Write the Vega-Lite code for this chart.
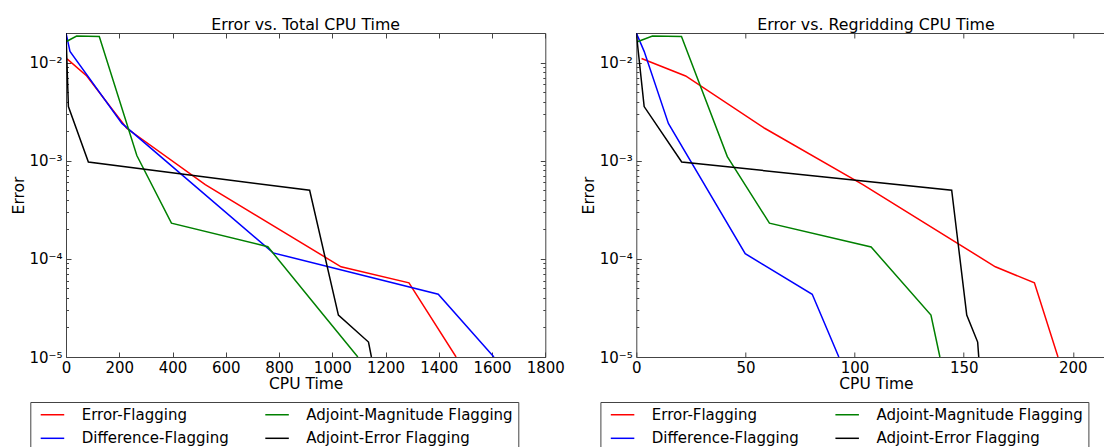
{
  "$schema": "https://vega.github.io/schema/vega-lite/v6.json",
  "background": "white",
  "padding": {"left": 10, "top": 16, "right": 0, "bottom": 0},
  "config": {
    "font": "DejaVu Sans",
    "view": {"stroke": "#444", "strokeWidth": 1},
    "axis": {"grid": false, "domain": false, "tickColor": "#444", "tickWidth": 1, "labelFontSize": 15, "labelColor": "#000", "labelFont": "DejaVu Sans", "titleFont": "DejaVu Sans", "titleFontSize": 15.5, "titleFontWeight": "normal", "titleColor": "#000"},
    "title": {"font": "DejaVu Sans", "fontSize": 15.8, "fontWeight": "normal", "color": "#000"}
  },
  "datasets": {
    "total": [
      {"series": "Error-Flagging", "t": 4, "err": 0.0109},
      {"series": "Error-Flagging", "t": 78, "err": 0.0073},
      {"series": "Error-Flagging", "t": 228, "err": 0.00214},
      {"series": "Error-Flagging", "t": 523, "err": 0.00057},
      {"series": "Error-Flagging", "t": 1033, "err": 0.000083},
      {"series": "Error-Flagging", "t": 1288, "err": 0.000057},
      {"series": "Error-Flagging", "t": 1465, "err": 0.00001},
      {"series": "Difference-Flagging", "t": 0, "err": 0.02},
      {"series": "Difference-Flagging", "t": 15, "err": 0.013},
      {"series": "Difference-Flagging", "t": 210, "err": 0.0024},
      {"series": "Difference-Flagging", "t": 778, "err": 0.000115},
      {"series": "Difference-Flagging", "t": 1398, "err": 0.0000436},
      {"series": "Difference-Flagging", "t": 1607, "err": 0.00001},
      {"series": "Adjoint-Magnitude Flagging", "t": 0, "err": 0.0163},
      {"series": "Adjoint-Magnitude Flagging", "t": 40, "err": 0.0186},
      {"series": "Adjoint-Magnitude Flagging", "t": 125, "err": 0.0184},
      {"series": "Adjoint-Magnitude Flagging", "t": 266, "err": 0.00113},
      {"series": "Adjoint-Magnitude Flagging", "t": 396, "err": 0.000231},
      {"series": "Adjoint-Magnitude Flagging", "t": 758, "err": 0.000133},
      {"series": "Adjoint-Magnitude Flagging", "t": 967, "err": 0.0000268},
      {"series": "Adjoint-Magnitude Flagging", "t": 1096, "err": 0.00001},
      {"series": "Adjoint-Error Flagging", "t": 0, "err": 0.02},
      {"series": "Adjoint-Error Flagging", "t": 9, "err": 0.00356},
      {"series": "Adjoint-Error Flagging", "t": 84, "err": 0.00097},
      {"series": "Adjoint-Error Flagging", "t": 915, "err": 0.0005},
      {"series": "Adjoint-Error Flagging", "t": 1023, "err": 0.0000267},
      {"series": "Adjoint-Error Flagging", "t": 1136, "err": 0.0000142},
      {"series": "Adjoint-Error Flagging", "t": 1147, "err": 0.00001}
    ],
    "regrid": [
      {"series": "Error-Flagging", "t": 2.4, "err": 0.011},
      {"series": "Error-Flagging", "t": 22.6, "err": 0.0073},
      {"series": "Error-Flagging", "t": 58.8, "err": 0.00214},
      {"series": "Error-Flagging", "t": 103.8, "err": 0.00057},
      {"series": "Error-Flagging", "t": 164.5, "err": 0.000083},
      {"series": "Error-Flagging", "t": 182.4, "err": 0.000057},
      {"series": "Error-Flagging", "t": 193.2, "err": 0.00001},
      {"series": "Difference-Flagging", "t": 0, "err": 0.02},
      {"series": "Difference-Flagging", "t": 3.6, "err": 0.013},
      {"series": "Difference-Flagging", "t": 14.7, "err": 0.0024},
      {"series": "Difference-Flagging", "t": 49.9, "err": 0.000113},
      {"series": "Difference-Flagging", "t": 80.6, "err": 0.0000436},
      {"series": "Difference-Flagging", "t": 92.8, "err": 0.00001},
      {"series": "Adjoint-Magnitude Flagging", "t": 0.5, "err": 0.0163},
      {"series": "Adjoint-Magnitude Flagging", "t": 7.4, "err": 0.0186},
      {"series": "Adjoint-Magnitude Flagging", "t": 20.7, "err": 0.0184},
      {"series": "Adjoint-Magnitude Flagging", "t": 41.7, "err": 0.0011},
      {"series": "Adjoint-Magnitude Flagging", "t": 61, "err": 0.000231},
      {"series": "Adjoint-Magnitude Flagging", "t": 107.6, "err": 0.000132},
      {"series": "Adjoint-Magnitude Flagging", "t": 135, "err": 0.0000268},
      {"series": "Adjoint-Magnitude Flagging", "t": 139.1, "err": 0.00001},
      {"series": "Adjoint-Error Flagging", "t": 0, "err": 0.02},
      {"series": "Adjoint-Error Flagging", "t": 3.6, "err": 0.00356},
      {"series": "Adjoint-Error Flagging", "t": 20.8, "err": 0.00097},
      {"series": "Adjoint-Error Flagging", "t": 144.5, "err": 0.0005},
      {"series": "Adjoint-Error Flagging", "t": 151.4, "err": 0.0000267},
      {"series": "Adjoint-Error Flagging", "t": 156.4, "err": 0.0000142},
      {"series": "Adjoint-Error Flagging", "t": 156.9, "err": 0.00001}
    ]
  },
  "bounds": "flush",
  "spacing": 90.3,
  "resolve": {"scale": {"color": "independent"}, "legend": {"color": "independent"}},
  "hconcat": [
    {
      "width": 479.3,
      "height": 324,
      "title": {"text": "Error vs. Total CPU Time", "frame": "group", "anchor": "middle", "offset": -13.5, "baseline": "alphabetic"},
      "data": {"name": "total"},
      "resolve": {"axis": {"x": "independent", "y": "independent"}},
      "layer": [
        {
          "mark": {"type": "line", "strokeWidth": 1.5, "clip": true},
          "encoding": {
            "x": {"field": "t", "type": "quantitative", "scale": {"domain": [0, 1800], "nice": false, "zero": false},
              "axis": {"orient": "bottom", "values": [0, 200, 400, 600, 800, 1000, 1200, 1400, 1600, 1800], "format": "d", "tickSize": -5, "labelPadding": 8.5, "title": "CPU Time", "titlePadding": 1, "labelFlush": false}},
            "y": {"field": "err", "type": "quantitative", "scale": {"type": "log", "domain": [0.00001, 0.02], "nice": false},
              "axis": {"orient": "left", "title": "Error", "titlePadding": 2.5, "labelPadding": 9,
                "values": [0.00001, 0.00002, 0.00003, 0.00004, 0.00005, 0.00006, 0.00007, 0.00008, 0.00009, 0.0001, 0.0002, 0.0003, 0.0004, 0.0005, 0.0006, 0.0007, 0.0008, 0.0009, 0.001, 0.002, 0.003, 0.004, 0.005, 0.006, 0.007, 0.008, 0.009, 0.01],
                "labelExpr": "abs(log(datum.value)/LN10 - round(log(datum.value)/LN10)) < 0.001 ? '10⁻' + ['', '¹', '²', '³', '⁴', '⁵'][-round(log(datum.value)/LN10)] : ''",
                "labelFlush": false,
                "tickSize": {"condition": {"test": "abs(log(datum.value)/LN10 - round(log(datum.value)/LN10)) < 0.001", "value": -5}, "value": -2.5}}},
            "color": {"field": "series", "type": "nominal",
              "scale": {"domain": ["Error-Flagging", "Difference-Flagging", "Adjoint-Magnitude Flagging", "Adjoint-Error Flagging"], "range": ["#ff0000", "#0000ff", "#008000", "#000000"]},
              "legend": {"orient": "none", "direction": "vertical", "legendX": -35.7, "legendY": 369, "columns": 2, "title": null, "symbolType": "M-0.35,0H3.57", "symbolSize": 144, "symbolStrokeWidth": 1.5, "labelFontSize": 15, "labelFont": "DejaVu Sans", "labelColor": "#000", "labelOffset": 31.4, "labelLimit": 400, "rowPadding": 7.8, "columnPadding": 30.6, "padding": 5, "strokeColor": "#444", "fillColor": "white"}}
          }
        },
        {
          "mark": {"type": "line", "strokeOpacity": 0, "clip": true},
          "encoding": {
            "x": {"field": "t", "type": "quantitative", "scale": {"domain": [0, 1800], "nice": false, "zero": false},
              "axis": {"orient": "top", "values": [0, 200, 400, 600, 800, 1000, 1200, 1400, 1600, 1800], "tickSize": -5, "labels": false, "title": null}},
            "y": {"field": "err", "type": "quantitative", "scale": {"type": "log", "domain": [0.00001, 0.02], "nice": false},
              "axis": {"orient": "right", "labels": false, "title": null,
                "values": [0.00001, 0.00002, 0.00003, 0.00004, 0.00005, 0.00006, 0.00007, 0.00008, 0.00009, 0.0001, 0.0002, 0.0003, 0.0004, 0.0005, 0.0006, 0.0007, 0.0008, 0.0009, 0.001, 0.002, 0.003, 0.004, 0.005, 0.006, 0.007, 0.008, 0.009, 0.01],
                "tickSize": {"condition": {"test": "abs(log(datum.value)/LN10 - round(log(datum.value)/LN10)) < 0.001", "value": -5}, "value": -2.5}}},
            "detail": {"field": "series", "type": "nominal"}
          }
        }
      ]
    },
    {
      "width": 479.3,
      "height": 324,
      "title": {"text": "Error vs. Regridding CPU Time", "frame": "group", "anchor": "middle", "offset": -13.5, "baseline": "alphabetic"},
      "data": {"name": "regrid"},
      "resolve": {"axis": {"x": "independent", "y": "independent"}},
      "layer": [
        {
          "mark": {"type": "line", "strokeWidth": 1.5, "clip": true},
          "encoding": {
            "x": {"field": "t", "type": "quantitative", "scale": {"domain": [0, 219.6], "nice": false, "zero": false},
              "axis": {"orient": "bottom", "values": [0, 50, 100, 150, 200], "format": "d", "tickSize": -5, "labelPadding": 8.5, "title": "CPU Time", "titlePadding": 1, "labelFlush": false}},
            "y": {"field": "err", "type": "quantitative", "scale": {"type": "log", "domain": [0.00001, 0.02], "nice": false},
              "axis": {"orient": "left", "title": "Error", "titlePadding": 2.5, "labelPadding": 9,
                "values": [0.00001, 0.00002, 0.00003, 0.00004, 0.00005, 0.00006, 0.00007, 0.00008, 0.00009, 0.0001, 0.0002, 0.0003, 0.0004, 0.0005, 0.0006, 0.0007, 0.0008, 0.0009, 0.001, 0.002, 0.003, 0.004, 0.005, 0.006, 0.007, 0.008, 0.009, 0.01],
                "labelExpr": "abs(log(datum.value)/LN10 - round(log(datum.value)/LN10)) < 0.001 ? '10⁻' + ['', '¹', '²', '³', '⁴', '⁵'][-round(log(datum.value)/LN10)] : ''",
                "labelFlush": false,
                "tickSize": {"condition": {"test": "abs(log(datum.value)/LN10 - round(log(datum.value)/LN10)) < 0.001", "value": -5}, "value": -2.5}}},
            "color": {"field": "series", "type": "nominal",
              "scale": {"domain": ["Error-Flagging", "Difference-Flagging", "Adjoint-Magnitude Flagging", "Adjoint-Error Flagging"], "range": ["#ff0000", "#0000ff", "#008000", "#000000"]},
              "legend": {"orient": "none", "direction": "vertical", "legendX": -35.9, "legendY": 369, "columns": 2, "title": null, "symbolType": "M-0.35,0H3.57", "symbolSize": 144, "symbolStrokeWidth": 1.5, "labelFontSize": 15, "labelFont": "DejaVu Sans", "labelColor": "#000", "labelOffset": 31.4, "labelLimit": 400, "rowPadding": 7.8, "columnPadding": 30.6, "padding": 5, "strokeColor": "#444", "fillColor": "white"}}
          }
        },
        {
          "mark": {"type": "line", "strokeOpacity": 0, "clip": true},
          "encoding": {
            "x": {"field": "t", "type": "quantitative", "scale": {"domain": [0, 219.6], "nice": false, "zero": false},
              "axis": {"orient": "top", "values": [0, 50, 100, 150, 200], "tickSize": -5, "labels": false, "title": null}},
            "y": {"field": "err", "type": "quantitative", "scale": {"type": "log", "domain": [0.00001, 0.02], "nice": false},
              "axis": {"orient": "right", "labels": false, "title": null,
                "values": [0.00001, 0.00002, 0.00003, 0.00004, 0.00005, 0.00006, 0.00007, 0.00008, 0.00009, 0.0001, 0.0002, 0.0003, 0.0004, 0.0005, 0.0006, 0.0007, 0.0008, 0.0009, 0.001, 0.002, 0.003, 0.004, 0.005, 0.006, 0.007, 0.008, 0.009, 0.01],
                "tickSize": {"condition": {"test": "abs(log(datum.value)/LN10 - round(log(datum.value)/LN10)) < 0.001", "value": -5}, "value": -2.5}}},
            "detail": {"field": "series", "type": "nominal"}
          }
        }
      ]
    }
  ]
}
